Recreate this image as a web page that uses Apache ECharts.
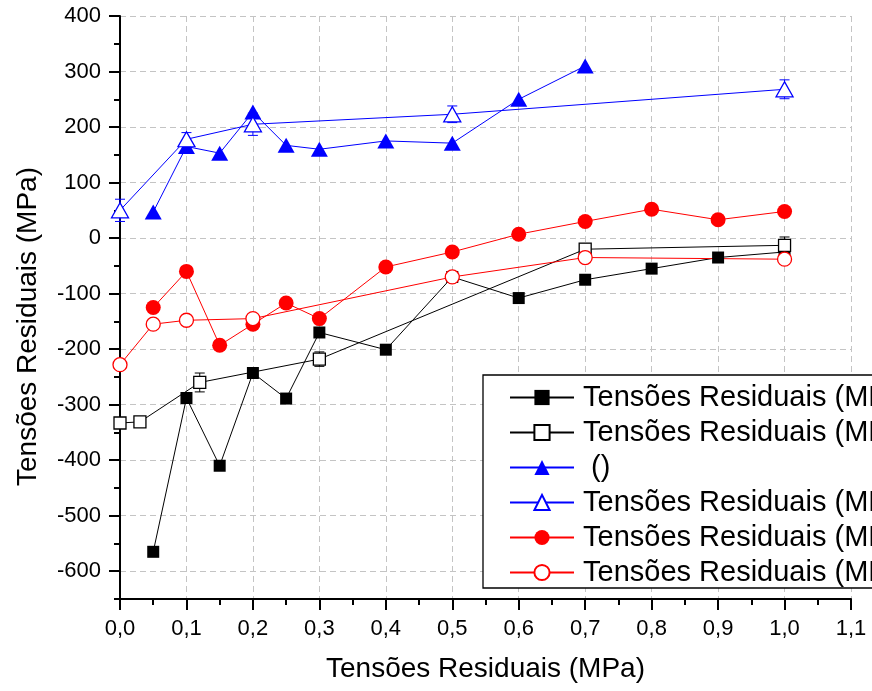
<!DOCTYPE html>
<html><head><meta charset="utf-8">
<script src="https://cdn.jsdelivr.net/npm/echarts@6/dist/echarts.min.js"></script>
<style>html,body{margin:0;padding:0;background:#fff}#c{width:872px;height:691px}</style>
</head><body><div id="c"></div>
<script>
// ---- data ----
const yMajorTicks = [-600, -500, -400, -300, -200, -100, 0, 100, 200, 300, 400];
const legendLabels = [
  'Tensões Residuais (MPa)',
  'Tensões Residuais (MPa)',
  ' ()',
  'Tensões Residuais (MPa)',
  'Tensões Residuais (MPa)',
  'Tensões Residuais (MPa)'
];
const seriesNames = ['s1', 's2', 's3', 's4', 's5', 's6'];

const sqFilledX = [0.05, 0.1, 0.15, 0.2, 0.25, 0.3, 0.4, 0.5, 0.6, 0.7, 0.8, 0.9, 1.0];
const sqFilledY = [-565, -288, -410, -243, -289, -170, -201, -70, -108, -75, -55, -35, -25];

const sqOpenX = [0.0, 0.03, 0.12, 0.3, 0.7, 1.0];
const sqOpenY = [-333, -331, -260, -218, -20, -13];
const sqOpenErr = [8, 8, 17, 13, 10, 15];

const triFilledX = [0.05, 0.1, 0.15, 0.2, 0.25, 0.3, 0.4, 0.5, 0.6, 0.7];
const triFilledY = [47, 165, 153, 227, 167, 160, 175, 171, 250, 310];

const triOpenX = [0.0, 0.1, 0.2, 0.5, 1.0];
const triOpenY = [50, 178, 205, 223, 268];
const triOpenErr = [20, 12, 20, 15, 17];

const circFilledX = [0.05, 0.1, 0.15, 0.2, 0.25, 0.3, 0.4, 0.5, 0.6, 0.7, 0.8, 0.9, 1.0];
const circFilledY = [-125, -60, -193, -155, -117, -145, -52, -25, 7, 30, 52, 33, 48];

const circOpenX = [0.0, 0.05, 0.1, 0.2, 0.5, 0.7, 1.0];
const circOpenY = [-228, -155, -148, -145, -70, -35, -38];
const circOpenErr = [8, 6, 5, 8, 6, 6, 5];

// ---- helpers ----
const FONT = 'Liberation Sans, Arial, Helvetica, sans-serif';
const zip = (xs, ys) => xs.map((x, i) => [x, ys[i]]);

function lineSeries(name, xs, ys, color, symbol, size, filled) {
  return {
    name: name, type: 'line', data: zip(xs, ys),
    symbol: symbol, symbolSize: size, showAllSymbol: true,
    lineStyle: { color: color, width: 1 },
    itemStyle: filled ? { color: color, borderWidth: 0 }
                      : { color: '#ffffff', borderColor: color, borderWidth: 1.3 },
    emphasis: { disabled: true },
    z: 3
  };
}
function errSeries(name, xs, ys, errs, color) {
  return {
    name: name, type: 'custom', silent: true,
    data: xs.map((x, i) => [x, ys[i] - errs[i], ys[i] + errs[i]]),
    encode: { x: 0, y: [1, 2] },
    renderItem: function (params, api) {
      const x = api.value(0);
      const lo = api.coord([x, api.value(1)]);
      const hi = api.coord([x, api.value(2)]);
      const w = 5;
      const st = { stroke: color, lineWidth: 1 };
      return { type: 'group', children: [
        { type: 'line', shape: { x1: lo[0], y1: lo[1], x2: hi[0], y2: hi[1] }, style: st },
        { type: 'line', shape: { x1: lo[0] - w, y1: lo[1], x2: lo[0] + w, y2: lo[1] }, style: st },
        { type: 'line', shape: { x1: hi[0] - w, y1: hi[1], x2: hi[0] + w, y2: hi[1] }, style: st }
      ]};
    },
    z: 2
  };
}

const gridColor = '#c4c4c4';
const chart = echarts.init(document.getElementById('c'), null, { renderer: 'canvas' });
chart.setOption({
  animation: false,
  backgroundColor: '#ffffff',
  grid: { left: 120, right: 21, top: 16, bottom: 92, containLabel: false },
  xAxis: {
    type: 'value', min: 0, max: 1.1, interval: 0.1,
    name: 'Tensões Residuais (MPa)', nameLocation: 'middle', nameGap: 56,
    nameTextStyle: { fontFamily: FONT, fontSize: 28, color: '#000' },
    axisLine: { show: true, onZero: false, lineStyle: { color: '#000', width: 2 } },
    axisTick: { show: true, length: 11, lineStyle: { color: '#000', width: 2 } },
    minorTick: { show: true, splitNumber: 2, length: 6, lineStyle: { color: '#000', width: 2 } },
    axisLabel: { margin: 19, fontFamily: FONT, fontSize: 22, color: '#000',
      formatter: v => v.toFixed(1).replace('.', ',') },
    splitLine: { show: true, lineStyle: { color: gridColor, type: [6, 4], width: 1 } }
  },
  yAxis: [{
    type: 'value', min: -650, max: 400, interval: 50, position: 'left',
    name: 'Tensões Residuais (MPa)', nameLocation: 'middle', nameGap: 78,
    nameTextStyle: { fontFamily: FONT, fontSize: 28, color: '#000', padding: [0, 38, 0, 0] },
    axisLine: { show: true, onZero: false, lineStyle: { color: '#000', width: 2 } },
    axisTick: { show: true, length: 6, lineStyle: { color: '#000', width: 2 } },
    axisLabel: { margin: 19, fontFamily: FONT, fontSize: 22, color: '#000',
      formatter: v => (v % 100 === 0 ? String(v) : '') },
    splitLine: { show: true, lineStyle: { color: ['rgba(0,0,0,0)', gridColor], type: [6, 4], width: 1 } }
  }, {
    type: 'value', min: -650, max: 400, interval: 50, position: 'left', offset: 0,
    axisLine: { show: false, onZero: false },
    axisTick: { show: true, length: 11, customValues: yMajorTicks, lineStyle: { color: '#000', width: 2 } },
    axisLabel: { show: false },
    splitLine: { show: false }
  }],
  legend: {
    orient: 'vertical', left: 483, top: 375,
    data: seriesNames,
    formatter: name => legendLabels[seriesNames.indexOf(name)],
    itemWidth: 64, itemHeight: 19, itemGap: 6,
    padding: [8, 10, 1, 26],
    backgroundColor: '#ffffff', borderColor: '#000', borderWidth: 1.3,
    textStyle: { fontFamily: FONT, fontSize: 29, color: '#000', padding: [0, 0, 0, 4] },
    selectedMode: false
  },
  series: [
    lineSeries(seriesNames[0], sqFilledX, sqFilledY, '#000000', 'rect', 12, true),
    errSeries('e2', sqOpenX, sqOpenY, sqOpenErr, '#000000'),
    lineSeries(seriesNames[1], sqOpenX, sqOpenY, '#000000', 'rect', 12, false),
    lineSeries(seriesNames[2], triFilledX, triFilledY, '#0000ff', 'triangle', [17, 15], true),
    errSeries('e4', triOpenX, triOpenY, triOpenErr, '#0000ff'),
    lineSeries(seriesNames[3], triOpenX, triOpenY, '#0000ff', 'triangle', [17, 15], false),
    lineSeries(seriesNames[4], circFilledX, circFilledY, '#ff0000', 'circle', 15, true),
    errSeries('e6', circOpenX, circOpenY, circOpenErr, '#ff0000'),
    lineSeries(seriesNames[5], circOpenX, circOpenY, '#ff0000', 'circle', 14, false)
  ]
});
</script>
</body></html>
